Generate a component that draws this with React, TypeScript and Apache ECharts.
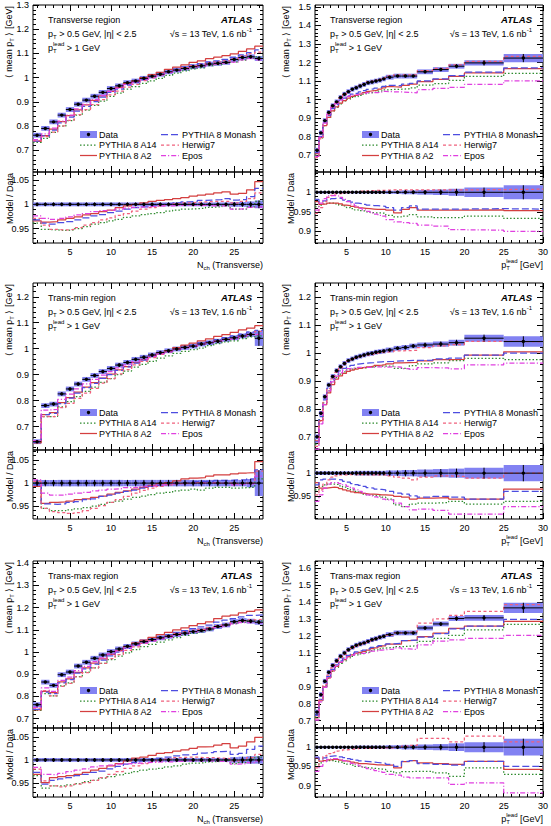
import React, { useEffect, useRef } from 'react';
import * as echarts from 'echarts';

const FONT = '"Liberation Sans", Arial, Helvetica, sans-serif';

// ---------------- binning ----------------
const NCH_EDGES = [0.5, 1.5, 2.5, 3.5, 4.5, 5.5, 6.5, 7.5, 8.5, 9.5, 10.5, 11.5, 12.5, 13.5, 14.5, 15.5, 16.5, 17.5, 18.5, 19.5, 20.5, 21.5, 22.5, 23.5, 24.5, 25.5, 26.5, 27.5, 28.5];
const PT_EDGES = [1, 1.5, 2, 2.5, 3, 3.5, 4, 4.5, 5, 5.5, 6, 6.5, 7, 7.5, 8, 8.5, 9, 9.5, 10, 11, 12, 13, 14, 16, 18, 20, 25, 30];

// ---------------- tick labels ----------------
const NCH_X_TICKS = [5, 10, 15, 20, 25];
const PT_X_TICKS = [5, 10, 15, 20, 25, 30];
const Y_TICKS_TRANS_NCH = [0.7, 0.8, 0.9, 1, 1.1, 1.2, 1.3];
const Y_TICKS_TRANS_PT = [0.7, 0.8, 0.9, 1, 1.1, 1.2, 1.3, 1.4, 1.5];
const Y_TICKS_MIN_NCH = [0.7, 0.8, 0.9, 1, 1.1, 1.2];
const Y_TICKS_MIN_PT = [0.7, 0.8, 0.9, 1, 1.1, 1.2];
const Y_TICKS_MAX_NCH = [0.7, 0.8, 0.9, 1, 1.1, 1.2, 1.3, 1.4];
const Y_TICKS_MAX_PT = [0.7, 0.8, 0.9, 1, 1.1, 1.2, 1.3, 1.4, 1.5, 1.6];
const R_TICKS_NCH = [0.95, 1, 1.05];
const R_TICKS_PT = [0.9, 0.95, 1];
const R_TICKS_MIN_PT = [0.95, 1];

// ---------------- Transverse, Nch ----------------
const TRANS_NCH_DATA = [0.762, 0.790, 0.817, 0.845, 0.868, 0.890, 0.907, 0.923, 0.939, 0.955, 0.966, 0.979, 0.986, 0.997, 1.006, 1.014, 1.024, 1.031, 1.038, 1.045, 1.049, 1.056, 1.059, 1.063, 1.075, 1.083, 1.086, 1.079];
const TRANS_NCH_ERR = [0.004, 0.004, 0.004, 0.004, 0.004, 0.004, 0.004, 0.004, 0.004, 0.004, 0.004, 0.004, 0.004, 0.004, 0.004, 0.004, 0.004, 0.004, 0.004, 0.004, 0.004, 0.004, 0.004, 0.004, 0.005, 0.005, 0.006, 0.008];
const TRANS_NCH_A14 = [0.961, 0.948, 0.947, 0.946, 0.947, 0.950, 0.954, 0.959, 0.962, 0.966, 0.969, 0.973, 0.976, 0.979, 0.981, 0.983, 0.986, 0.988, 0.990, 0.991, 0.992, 0.994, 0.995, 0.997, 0.990, 0.990, 0.995, 1.006];
const TRANS_NCH_A2 = [0.966, 0.963, 0.964, 0.968, 0.971, 0.974, 0.978, 0.981, 0.985, 0.988, 0.993, 0.997, 1.000, 1.003, 1.006, 1.008, 1.010, 1.012, 1.014, 1.017, 1.019, 1.021, 1.024, 1.026, 1.021, 1.023, 1.030, 1.047];
const TRANS_NCH_MONASH = [0.968, 0.961, 0.959, 0.962, 0.964, 0.968, 0.972, 0.976, 0.979, 0.983, 0.986, 0.990, 0.993, 0.995, 0.997, 0.999, 1.001, 1.003, 1.005, 1.006, 1.008, 1.009, 1.010, 1.012, 1.009, 1.010, 1.016, 1.033];
const TRANS_NCH_HERWIG = [0.971, 0.957, 0.948, 0.947, 0.948, 0.952, 0.957, 0.962, 0.968, 0.972, 0.977, 0.981, 0.986, 0.990, 0.993, 0.997, 0.999, 1.001, 1.003, 1.004, 1.005, 1.006, 1.006, 1.006, 1.003, 1.006, 1.012, 1.024];
const TRANS_NCH_EPOS = [0.976, 0.971, 0.969, 0.971, 0.974, 0.978, 0.981, 0.985, 0.987, 0.988, 0.990, 0.992, 0.994, 0.995, 0.996, 0.997, 0.997, 0.998, 0.998, 0.998, 0.998, 0.997, 0.997, 0.997, 0.990, 0.991, 0.994, 0.995];

// ---------------- Transverse, pT lead ----------------
const TRANS_PT_DATA = [0.727, 0.821, 0.887, 0.931, 0.967, 0.988, 1.011, 1.029, 1.043, 1.056, 1.064, 1.073, 1.082, 1.091, 1.095, 1.100, 1.105, 1.112, 1.121, 1.127, 1.127, 1.127, 1.150, 1.162, 1.180, 1.198, 1.224];
const TRANS_PT_ERR = [0.003, 0.003, 0.003, 0.003, 0.003, 0.003, 0.003, 0.003, 0.003, 0.003, 0.003, 0.003, 0.003, 0.003, 0.003, 0.003, 0.003, 0.003, 0.004, 0.004, 0.005, 0.005, 0.006, 0.007, 0.009, 0.012, 0.018];
const TRANS_PT_A14 = [0.963, 0.967, 0.970, 0.972, 0.972, 0.970, 0.967, 0.965, 0.961, 0.958, 0.955, 0.953, 0.952, 0.950, 0.948, 0.947, 0.947, 0.946, 0.941, 0.937, 0.939, 0.943, 0.937, 0.935, 0.935, 0.939, 0.933];
const TRANS_PT_A2 = [0.976, 0.969, 0.970, 0.972, 0.972, 0.972, 0.970, 0.967, 0.966, 0.964, 0.962, 0.960, 0.959, 0.958, 0.957, 0.956, 0.956, 0.956, 0.954, 0.947, 0.956, 0.961, 0.954, 0.954, 0.954, 0.955, 0.953];
const TRANS_PT_MONASH = [0.982, 0.976, 0.978, 0.982, 0.984, 0.985, 0.984, 0.980, 0.978, 0.975, 0.972, 0.971, 0.969, 0.967, 0.966, 0.966, 0.965, 0.964, 0.961, 0.954, 0.961, 0.965, 0.957, 0.957, 0.957, 0.958, 0.957];
const TRANS_PT_HERWIG = [0.946, 0.961, 0.976, 0.987, 0.992, 0.996, 0.997, 0.999, 1.000, 1.001, 1.002, 1.003, 1.003, 1.004, 1.004, 1.005, 1.005, 1.005, 1.006, 1.006, 1.006, 1.006, 1.006, 1.006, 1.006, 1.007, 1.008];
const TRANS_PT_EPOS = [0.954, 0.972, 0.984, 0.991, 0.992, 0.991, 0.987, 0.982, 0.976, 0.970, 0.965, 0.959, 0.955, 0.951, 0.947, 0.944, 0.941, 0.939, 0.930, 0.924, 0.922, 0.920, 0.916, 0.913, 0.904, 0.903, 0.900];

// ---------------- Trans-min, Nch ----------------
const MIN_NCH_DATA = [0.642, 0.781, 0.787, 0.826, 0.845, 0.864, 0.882, 0.897, 0.912, 0.924, 0.937, 0.947, 0.959, 0.967, 0.976, 0.985, 0.992, 0.999, 1.005, 1.010, 1.018, 1.023, 1.029, 1.036, 1.042, 1.049, 1.055, 1.040];
const MIN_NCH_ERR = [0.007, 0.007, 0.007, 0.007, 0.007, 0.007, 0.007, 0.007, 0.007, 0.007, 0.007, 0.007, 0.007, 0.007, 0.007, 0.007, 0.007, 0.007, 0.007, 0.007, 0.007, 0.007, 0.007, 0.007, 0.007, 0.007, 0.009, 0.028];
const MIN_NCH_A14 = [1.000, 0.945, 0.940, 0.940, 0.942, 0.944, 0.947, 0.950, 0.954, 0.958, 0.961, 0.965, 0.969, 0.972, 0.975, 0.978, 0.980, 0.983, 0.985, 0.987, 0.985, 0.989, 0.991, 0.991, 0.989, 0.990, 0.991, 1.009];
const MIN_NCH_A2 = [0.993, 0.956, 0.958, 0.959, 0.961, 0.964, 0.966, 0.969, 0.972, 0.976, 0.980, 0.983, 0.987, 0.991, 0.995, 0.999, 1.001, 1.005, 1.009, 1.011, 1.012, 1.015, 1.018, 1.018, 1.020, 1.022, 1.023, 1.047];
const MIN_NCH_MONASH = [0.996, 0.955, 0.954, 0.955, 0.958, 0.960, 0.964, 0.966, 0.971, 0.974, 0.978, 0.982, 0.985, 0.989, 0.993, 0.995, 0.997, 0.999, 1.001, 1.003, 1.004, 1.004, 1.006, 1.006, 1.007, 1.007, 1.009, 1.029];
const MIN_NCH_HERWIG = [1.004, 0.945, 0.938, 0.936, 0.934, 0.936, 0.940, 0.945, 0.951, 0.958, 0.964, 0.971, 0.978, 0.984, 0.989, 0.993, 0.996, 0.999, 1.000, 1.001, 1.001, 1.001, 1.000, 1.000, 0.999, 1.000, 1.000, 1.026];
const MIN_NCH_EPOS = [1.007, 0.978, 0.974, 0.974, 0.976, 0.978, 0.980, 0.983, 0.985, 0.987, 0.988, 0.990, 0.991, 0.993, 0.994, 0.996, 0.997, 0.999, 0.999, 1.000, 1.000, 1.000, 1.000, 0.999, 0.996, 0.998, 0.999, 1.015];

// ---------------- Trans-min, pT lead ----------------
const MIN_PT_DATA = [0.702, 0.786, 0.845, 0.887, 0.917, 0.938, 0.952, 0.964, 0.974, 0.980, 0.986, 0.990, 0.994, 0.998, 1.000, 1.004, 1.006, 1.008, 1.012, 1.018, 1.021, 1.026, 1.030, 1.033, 1.038, 1.054, 1.042];
const MIN_PT_ERR = [0.004, 0.004, 0.004, 0.004, 0.004, 0.004, 0.004, 0.004, 0.004, 0.004, 0.005, 0.005, 0.005, 0.005, 0.005, 0.005, 0.005, 0.005, 0.006, 0.006, 0.007, 0.007, 0.008, 0.009, 0.010, 0.012, 0.018];
const MIN_PT_A14 = [0.963, 0.971, 0.974, 0.976, 0.976, 0.975, 0.972, 0.969, 0.966, 0.963, 0.960, 0.957, 0.954, 0.952, 0.951, 0.950, 0.949, 0.947, 0.943, 0.930, 0.926, 0.932, 0.934, 0.935, 0.938, 0.932, 0.938];
const MIN_PT_A2 = [0.979, 0.967, 0.967, 0.968, 0.969, 0.968, 0.966, 0.963, 0.961, 0.959, 0.957, 0.956, 0.955, 0.954, 0.954, 0.953, 0.952, 0.952, 0.951, 0.949, 0.947, 0.943, 0.945, 0.946, 0.943, 0.943, 0.965];
const MIN_PT_MONASH = [0.974, 0.985, 0.987, 0.987, 0.987, 0.986, 0.985, 0.982, 0.980, 0.977, 0.975, 0.973, 0.971, 0.968, 0.967, 0.965, 0.964, 0.963, 0.960, 0.956, 0.954, 0.950, 0.947, 0.949, 0.947, 0.943, 0.960];
const MIN_PT_HERWIG = [0.952, 0.963, 0.976, 0.985, 0.991, 0.994, 0.996, 0.996, 0.997, 0.997, 0.997, 0.997, 0.997, 0.996, 0.996, 0.996, 0.996, 0.996, 0.994, 0.991, 0.989, 0.985, 0.991, 0.994, 0.993, 0.989, 1.000];
const MIN_PT_EPOS = [0.938, 0.952, 0.967, 0.976, 0.979, 0.979, 0.977, 0.974, 0.971, 0.967, 0.963, 0.960, 0.956, 0.952, 0.950, 0.948, 0.946, 0.943, 0.941, 0.934, 0.926, 0.919, 0.921, 0.918, 0.910, 0.910, 0.926];

// ---------------- Trans-max, Nch ----------------
const MAX_NCH_DATA = [0.763, 0.865, 0.850, 0.898, 0.910, 0.937, 0.954, 0.972, 0.987, 1.002, 1.014, 1.026, 1.037, 1.047, 1.056, 1.064, 1.071, 1.079, 1.085, 1.092, 1.097, 1.104, 1.115, 1.122, 1.137, 1.142, 1.139, 1.134];
const MAX_NCH_ERR = [0.004, 0.004, 0.004, 0.004, 0.004, 0.004, 0.004, 0.004, 0.004, 0.004, 0.004, 0.004, 0.004, 0.004, 0.004, 0.004, 0.004, 0.004, 0.004, 0.004, 0.004, 0.004, 0.004, 0.004, 0.006, 0.007, 0.008, 0.008];
const MAX_NCH_A14 = [0.966, 0.939, 0.944, 0.944, 0.946, 0.949, 0.953, 0.956, 0.961, 0.964, 0.968, 0.971, 0.975, 0.978, 0.980, 0.982, 0.985, 0.987, 0.991, 0.993, 0.994, 0.996, 0.997, 0.999, 0.992, 0.994, 1.001, 1.006];
const MAX_NCH_A2 = [0.969, 0.951, 0.962, 0.964, 0.966, 0.969, 0.973, 0.978, 0.982, 0.987, 0.992, 0.998, 1.004, 1.006, 1.010, 1.014, 1.016, 1.019, 1.022, 1.025, 1.028, 1.029, 1.032, 1.035, 1.026, 1.030, 1.039, 1.049];
const MAX_NCH_MONASH = [0.973, 0.948, 0.956, 0.959, 0.962, 0.966, 0.969, 0.973, 0.976, 0.981, 0.986, 0.991, 0.994, 0.998, 1.001, 1.004, 1.006, 1.009, 1.011, 1.012, 1.015, 1.016, 1.018, 1.019, 1.012, 1.014, 1.023, 1.030];
const MAX_NCH_HERWIG = [0.980, 0.955, 0.944, 0.942, 0.944, 0.948, 0.951, 0.956, 0.962, 0.969, 0.975, 0.982, 0.987, 0.992, 0.996, 0.999, 1.002, 1.005, 1.006, 1.006, 1.005, 1.005, 1.004, 1.003, 0.998, 0.999, 1.005, 1.012];
const MAX_NCH_EPOS = [0.984, 0.969, 0.968, 0.971, 0.975, 0.978, 0.981, 0.985, 0.987, 0.989, 0.991, 0.992, 0.993, 0.994, 0.995, 0.996, 0.996, 0.997, 0.998, 0.998, 0.998, 0.998, 0.997, 0.996, 0.991, 0.992, 0.994, 0.998];

// ---------------- Trans-max, pT lead ----------------
const MAX_PT_DATA = [0.751, 0.854, 0.933, 0.986, 1.027, 1.055, 1.081, 1.100, 1.120, 1.134, 1.146, 1.154, 1.160, 1.169, 1.179, 1.185, 1.193, 1.199, 1.209, 1.219, 1.219, 1.219, 1.248, 1.272, 1.304, 1.308, 1.367];
const MAX_PT_ERR = [0.003, 0.003, 0.003, 0.003, 0.003, 0.003, 0.003, 0.003, 0.003, 0.003, 0.004, 0.004, 0.004, 0.004, 0.004, 0.004, 0.004, 0.004, 0.005, 0.005, 0.006, 0.006, 0.007, 0.008, 0.010, 0.013, 0.022];
const MAX_PT_A14 = [0.955, 0.959, 0.963, 0.965, 0.965, 0.963, 0.961, 0.958, 0.956, 0.953, 0.950, 0.949, 0.947, 0.946, 0.945, 0.944, 0.943, 0.942, 0.937, 0.933, 0.936, 0.937, 0.937, 0.933, 0.924, 0.946, 0.929];
const MAX_PT_A2 = [0.972, 0.963, 0.965, 0.967, 0.968, 0.968, 0.966, 0.964, 0.963, 0.961, 0.959, 0.957, 0.957, 0.956, 0.955, 0.954, 0.954, 0.953, 0.953, 0.946, 0.962, 0.965, 0.959, 0.957, 0.955, 0.963, 0.942];
const MAX_PT_MONASH = [0.974, 0.968, 0.972, 0.976, 0.977, 0.977, 0.975, 0.973, 0.970, 0.968, 0.966, 0.964, 0.963, 0.962, 0.961, 0.960, 0.959, 0.958, 0.955, 0.950, 0.963, 0.965, 0.957, 0.955, 0.953, 0.963, 0.950];
const MAX_PT_HERWIG = [0.946, 0.963, 0.977, 0.983, 0.986, 0.990, 0.991, 0.993, 0.994, 0.995, 0.996, 0.997, 0.997, 0.997, 0.997, 0.998, 0.998, 0.998, 0.998, 1.000, 1.003, 1.005, 1.023, 1.023, 1.014, 1.029, 1.014];
const MAX_PT_EPOS = [0.937, 0.950, 0.962, 0.968, 0.970, 0.970, 0.968, 0.965, 0.962, 0.958, 0.955, 0.951, 0.948, 0.944, 0.942, 0.939, 0.937, 0.934, 0.929, 0.927, 0.922, 0.920, 0.920, 0.920, 0.903, 0.907, 0.881];

// ---------------- styles ----------------
const BAND_COLOR = '#8282f2';
const MODELS = [
  { name: 'PYTHIA 8 A14', color: '#2e8b2e', dash: [1.5, 2] as any },
  { name: 'PYTHIA 8 A2', color: '#d43f3f', dash: 'solid' as any },
  { name: 'PYTHIA 8 Monash', color: '#4d4de0', dash: [7, 3] as any },
  { name: 'Herwig7', color: '#f0607c', dash: [3, 2.5] as any },
  { name: 'Epos', color: '#e040e0', dash: [5, 2, 1.2, 2] as any },
];
const LEGEND_SLOTS = [[0, 1], [0, 2], [1, 0], [1, 1], [1, 2]];

const COL_LEFT = [33, 315];
const COL_WIDTH = [230, 228];
const ROW_TOP = [5, 283, 561];
const MAIN_H = 167;
const RATIO_H = [71, 69, 69];
const YTITLE_X = [9, 286];
const RTITLE_X = [10, 291];

const PANELS = [
  { row: 0, col: 0, region: 'Transverse region', edges: NCH_EDGES, data: TRANS_NCH_DATA, err: TRANS_NCH_ERR,
    models: [TRANS_NCH_A14, TRANS_NCH_A2, TRANS_NCH_MONASH, TRANS_NCH_HERWIG, TRANS_NCH_EPOS],
    xr: [0.5, 28.5], xt: NCH_X_TICKS, mr: [0.61, 1.3], mt: Y_TICKS_TRANS_NCH, rr: [0.92, 1.067], rt: R_TICKS_NCH, nch: true },
  { row: 0, col: 1, region: 'Transverse region', edges: PT_EDGES, data: TRANS_PT_DATA, err: TRANS_PT_ERR,
    models: [TRANS_PT_A14, TRANS_PT_A2, TRANS_PT_MONASH, TRANS_PT_HERWIG, TRANS_PT_EPOS],
    xr: [1, 30], xt: PT_X_TICKS, mr: [0.61, 1.51], mt: Y_TICKS_TRANS_PT, rr: [0.87, 1.052], rt: R_TICKS_PT, nch: false },
  { row: 1, col: 0, region: 'Trans-min region', edges: NCH_EDGES, data: MIN_NCH_DATA, err: MIN_NCH_ERR,
    models: [MIN_NCH_A14, MIN_NCH_A2, MIN_NCH_MONASH, MIN_NCH_HERWIG, MIN_NCH_EPOS],
    xr: [0.5, 28.5], xt: NCH_X_TICKS, mr: [0.61, 1.253], mt: Y_TICKS_MIN_NCH, rr: [0.922, 1.072], rt: R_TICKS_NCH, nch: true },
  { row: 1, col: 1, region: 'Trans-min region', edges: PT_EDGES, data: MIN_PT_DATA, err: MIN_PT_ERR,
    models: [MIN_PT_A14, MIN_PT_A2, MIN_PT_MONASH, MIN_PT_HERWIG, MIN_PT_EPOS],
    xr: [1, 30], xt: PT_X_TICKS, mr: [0.655, 1.251], mt: Y_TICKS_MIN_PT, rr: [0.899, 1.051], rt: R_TICKS_MIN_PT, nch: false },
  { row: 2, col: 0, region: 'Trans-max region', edges: NCH_EDGES, data: MAX_NCH_DATA, err: MAX_NCH_ERR,
    models: [MAX_NCH_A14, MAX_NCH_A2, MAX_NCH_MONASH, MAX_NCH_HERWIG, MAX_NCH_EPOS],
    xr: [0.5, 28.5], xt: NCH_X_TICKS, mr: [0.658, 1.41], mt: Y_TICKS_MAX_NCH, rr: [0.92, 1.069], rt: R_TICKS_NCH, nch: true },
  { row: 2, col: 1, region: 'Trans-max region', edges: PT_EDGES, data: MAX_PT_DATA, err: MAX_PT_ERR,
    models: [MAX_PT_A14, MAX_PT_A2, MAX_PT_MONASH, MAX_PT_HERWIG, MAX_PT_EPOS],
    xr: [1, 30], xt: PT_X_TICKS, mr: [0.657, 1.644], mt: Y_TICKS_MAX_PT, rr: [0.87, 1.05], rt: R_TICKS_PT, nch: false },
];

function seq(a: number, b: number, step: number): number[] {
  const out: number[] = [];
  const n = Math.round((b - a) / step);
  for (let i = 0; i <= n; i++) out.push(Math.round((a + i * step) * 10000) / 10000);
  return out;
}
function minorFrom(range: number[], step: number): number[] {
  const a = Math.ceil(range[0] / step - 1e-6) * step;
  const b = Math.floor(range[1] / step + 1e-6) * step;
  return seq(a, b, step);
}
const fmt = (v: number) => String(Number(v.toFixed(3)));

let measureCtx: CanvasRenderingContext2D | null = null;
function fontStr(fs: number, weight = 'normal', style = 'normal') {
  return `${style} ${weight} ${fs}px ${FONT}`;
}
function tw(t: string, fs: number, weight = 'normal', style = 'normal') {
  if (!measureCtx) measureCtx = document.createElement('canvas').getContext('2d');
  measureCtx!.font = fontStr(fs, weight, style);
  return measureCtx!.measureText(t).width;
}
function txt(t: string, x: number, y: number, fs: number, weight = 'normal', style = 'normal', fill = '#000') {
  return {
    type: 'text', x, y, silent: true,
    style: { text: t, fill, font: fontStr(fs, weight, style), textAlign: 'left', textVerticalAlign: 'middle', align: 'left', verticalAlign: 'middle' },
  };
}
type Seg = { t?: string; fs: number; dy?: number; w?: string; s?: string; sup?: string; sub?: string };
function runGroup(segs: Seg[], x: number, y: number, align: 'left' | 'right', rotation = 0) {
  const kids: any[] = [];
  let cx = 0;
  for (const s of segs) {
    if (s.sup !== undefined) {
      kids.push(txt(s.sup, cx, -3.6, s.fs));
      kids.push(txt(s.sub || '', cx, 2.8, s.fs));
      cx += Math.max(tw(s.sup, s.fs), tw(s.sub || '', s.fs));
    } else {
      kids.push(txt(s.t || '', cx, s.dy || 0, s.fs, s.w, s.s));
      cx += tw(s.t || '', s.fs, s.w, s.s);
    }
  }
  if (align === 'right') kids.forEach((k) => (k.x -= cx));
  return { type: 'group', x, y, rotation, children: kids, silent: true };
}

function stepPoints(edges: number[], vals: number[]) {
  const pts: number[][] = [];
  vals.forEach((v, i) => {
    pts.push([edges[i], v]);
    pts.push([edges[i + 1], v]);
  });
  return pts;
}

const bandRender = (minHalf: number) => (_p: any, api: any) => {
  const lo = api.value(0), hi = api.value(1), y = api.value(2), e = api.value(3);
  const a = api.coord([lo, y + e]);
  const b = api.coord([hi, y - e]);
  let top = a[1], bot = b[1];
  if (bot - top < 2 * minHalf) {
    const m = (top + bot) / 2;
    top = m - minHalf;
    bot = m + minHalf;
  }
  return { type: 'rect', shape: { x: a[0], y: top, width: b[0] - a[0], height: bot - top }, style: { fill: BAND_COLOR } };
};
const markRender = (_p: any, api: any) => {
  const lo = api.value(0), hi = api.value(1), y = api.value(2), e = api.value(3);
  const pl = api.coord([lo, y]);
  const ph = api.coord([hi, y]);
  const pt = api.coord([(lo + hi) / 2, y + e]);
  const pb = api.coord([(lo + hi) / 2, y - e]);
  const cx = (pl[0] + ph[0]) / 2;
  return {
    type: 'group',
    children: [
      { type: 'line', shape: { x1: pl[0], y1: pl[1], x2: ph[0], y2: ph[1] }, style: { stroke: '#000', lineWidth: 1 } },
      { type: 'line', shape: { x1: cx, y1: pt[1], x2: cx, y2: pb[1] }, style: { stroke: '#000', lineWidth: 1 } },
      { type: 'circle', shape: { cx, cy: pl[1], r: 1.7 }, style: { fill: '#000' } },
    ],
  };
};

function buildOption() {
  const grid: any[] = [];
  const xAxis: any[] = [];
  const yAxis: any[] = [];
  const series: any[] = [];
  const graphic: any[] = [];

  const addGrid = (left: number, top: number, width: number, height: number, xr: number[], xMaj: number[], xMinStep: number,
    yr: number[], yMaj: number[], yMinStep: number, showXLab: boolean) => {
    const gi = grid.length;
    grid.push({ left, top, width, height, show: true, borderColor: '#000', borderWidth: 1, backgroundColor: 'transparent', containLabel: false });
    const xMin = minorFrom(xr, xMinStep);
    const yMin = minorFrom(yr, yMinStep);
    const mkX = (pos: string, ticks: number[], len: number, lab: boolean) => ({
      type: 'value', gridIndex: gi, min: xr[0], max: xr[1], position: pos,
      axisLine: { show: false, onZero: false }, splitLine: { show: false }, axisPointer: { show: false },
      axisTick: { show: true, inside: true, length: len, customValues: ticks, lineStyle: { color: '#000', width: 1 } },
      axisLabel: { show: lab, customValues: ticks, formatter: fmt, fontSize: 9, color: '#000', fontFamily: FONT, margin: 4 },
    });
    const mkY = (pos: string, ticks: number[], len: number, lab: boolean) => ({
      type: 'value', gridIndex: gi, min: yr[0], max: yr[1], position: pos,
      axisLine: { show: false, onZero: false }, splitLine: { show: false }, axisPointer: { show: false },
      axisTick: { show: true, inside: true, length: len, customValues: ticks, lineStyle: { color: '#000', width: 1 } },
      axisLabel: { show: lab, customValues: ticks, formatter: fmt, fontSize: 9, color: '#000', fontFamily: FONT, margin: 4 },
    });
    const xi = xAxis.length;
    xAxis.push(mkX('bottom', xMaj, 6, showXLab), mkX('bottom', xMin, 3, false), mkX('top', xMaj, 6, false), mkX('top', xMin, 3, false));
    const yi = yAxis.length;
    yAxis.push(mkY('left', yMaj, 6, true), mkY('left', yMin, 3, false), mkY('right', yMaj, 6, false), mkY('right', yMin, 3, false));
    return { xi, yi };
  };

  PANELS.forEach((p) => {
    const gl = COL_LEFT[p.col], gw = COL_WIDTH[p.col];
    const mt = ROW_TOP[p.row];
    const rt = mt + MAIN_H, rh = RATIO_H[p.row];
    const m = addGrid(gl, mt, gw, MAIN_H, p.xr, p.xt, 1, p.mr, p.mt, 0.02, false);
    const r = addGrid(gl, rt, gw, rh, p.xr, p.xt, 1, p.rr, p.rt, 0.01, true);

    const nb = p.data.length;
    const mainRows = p.data.map((d, i) => [p.edges[i], p.edges[i + 1], d, d * p.err[i]]);
    const ratioRows = p.data.map((_d, i) => [p.edges[i], p.edges[i + 1], 1, p.err[i]]);

    series.push({ type: 'custom', name: 'Data band', xAxisIndex: m.xi, yAxisIndex: m.yi, clip: true, silent: true, z: 1, renderItem: bandRender(2.4), data: mainRows });
    series.push({ type: 'custom', name: 'Data band', xAxisIndex: r.xi, yAxisIndex: r.yi, clip: true, silent: true, z: 1, renderItem: bandRender(1.2), data: ratioRows });

    MODELS.forEach((mod, k) => {
      const ratio = p.models[k];
      const mainVals = ratio.slice(0, nb).map((v, i) => v * p.data[i]);
      const ls = { color: mod.color, width: 1.25, type: mod.dash };
      series.push({ type: 'line', name: mod.name, xAxisIndex: m.xi, yAxisIndex: m.yi, data: stepPoints(p.edges, mainVals), showSymbol: false, symbol: 'none', lineStyle: ls, clip: true, silent: true, z: 3 });
      series.push({ type: 'line', name: mod.name, xAxisIndex: r.xi, yAxisIndex: r.yi, data: stepPoints(p.edges, ratio), showSymbol: false, symbol: 'none', lineStyle: ls, clip: true, silent: true, z: 3 });
    });

    series.push({ type: 'custom', name: 'Data', xAxisIndex: m.xi, yAxisIndex: m.yi, clip: true, silent: true, z: 5, renderItem: markRender, data: mainRows });
    series.push({ type: 'custom', name: 'Data', xAxisIndex: r.xi, yAxisIndex: r.yi, clip: true, silent: true, z: 5, renderItem: markRender, data: ratioRows });

    // ---- annotations ----
    const fs = 9;
    graphic.push(runGroup([{ t: p.region, fs }], gl + 15, mt + 14.5, 'left'));
    graphic.push(runGroup([{ t: 'p', fs }, { t: 'T', fs: 6, dy: 2.8 }, { t: ' > 0.5 GeV, |\u03b7| < 2.5', fs }], gl + 15, mt + 29, 'left'));
    graphic.push(runGroup([{ t: 'p', fs }, { sup: 'lead', sub: 'T', fs: 6 }, { t: ' > 1 GeV', fs }], gl + 15, mt + 43, 'left'));
    graphic.push(runGroup([{ t: 'ATLAS', fs: 9.5, w: 'bold', s: 'italic' }], gl + gw - 11, mt + 14.5, 'right'));
    graphic.push(runGroup([{ t: '\u221As = 13 TeV, 1.6 nb', fs }, { t: '-1', fs: 6, dy: -3.6 }], gl + gw - 11, mt + 29, 'right'));

    // ---- legend ----
    const rowsY = [mt + 129.5, mt + 140, mt + 150.5];
    const iconX = [[gl + 47, gl + 64], [gl + 128, gl + 146]];
    const textX = [gl + 66, gl + 149];
    graphic.push({ type: 'rect', silent: true, shape: { x: iconX[0][0], y: rowsY[0] - 3.5, width: iconX[0][1] - iconX[0][0], height: 7 }, style: { fill: BAND_COLOR } });
    graphic.push({ type: 'circle', silent: true, shape: { cx: (iconX[0][0] + iconX[0][1]) / 2, cy: rowsY[0], r: 1.7 }, style: { fill: '#000' } });
    graphic.push(runGroup([{ t: 'Data', fs }], textX[0], rowsY[0], 'left'));
    MODELS.forEach((mod, k) => {
      const [c, rw] = LEGEND_SLOTS[k];
      graphic.push({
        type: 'line', silent: true,
        shape: { x1: iconX[c][0], y1: rowsY[rw], x2: iconX[c][1], y2: rowsY[rw] },
        style: { stroke: mod.color, lineWidth: 1.25, lineDash: Array.isArray(mod.dash) ? mod.dash : null },
      });
      graphic.push(runGroup([{ t: mod.name, fs }], textX[c], rowsY[rw], 'left'));
    });

    // ---- axis titles ----
    graphic.push(runGroup([{ t: '\u27e8 mean p', fs }, { t: 'T', fs: 6, dy: 2.8 }, { t: ' \u27e9 [GeV]', fs }], YTITLE_X[p.col], mt + 1, 'right', Math.PI / 2));
    graphic.push(runGroup([{ t: 'Model / Data', fs }], RTITLE_X[p.col], rt + 1, 'right', Math.PI / 2));
    const xy = rt + rh + 22;
    if (p.nch) {
      graphic.push(runGroup([{ t: 'N', fs }, { t: 'ch', fs: 6, dy: 2.8 }, { t: ' (Transverse)', fs }], gl + gw, xy, 'right'));
    } else {
      graphic.push(runGroup([{ t: 'p', fs }, { sup: 'lead', sub: 'T', fs: 6 }, { t: ' [GeV]', fs }], gl + gw, xy, 'right'));
    }
  });

  return {
    animation: false,
    backgroundColor: '#fff',
    textStyle: { fontFamily: FONT },
    grid, xAxis, yAxis, series, graphic,
  };
}

export default function App() {
  const ref = useRef<HTMLDivElement>(null);
  useEffect(() => {
    const chart = echarts.init(ref.current!, null, { renderer: 'svg' });
    chart.setOption(buildOption() as any);
    return () => chart.dispose();
  }, []);
  return <div ref={ref} style={{ position: 'absolute', left: 0, top: 0, width: 551, height: 826, background: '#fff' }} />;
}
